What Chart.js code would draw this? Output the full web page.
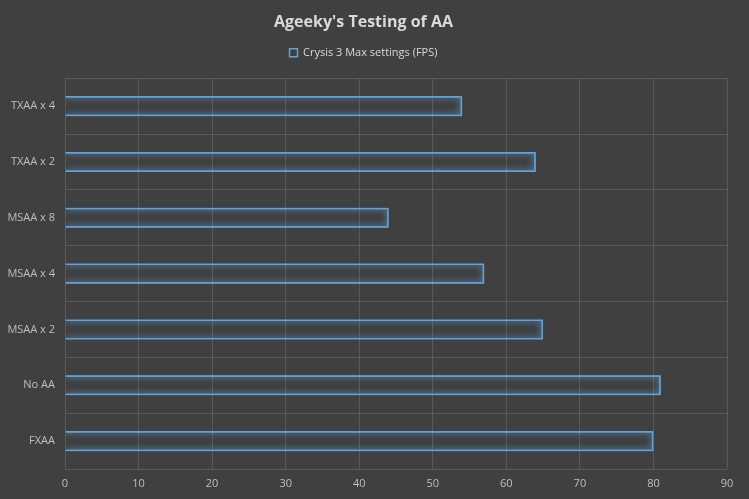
<!DOCTYPE html>
<html>
<head>
<meta charset="utf-8">
<script src="https://cdn.jsdelivr.net/npm/chart.js@4/dist/chart.umd.min.js"></script>
<style>
    html, body { margin: 0; padding: 0; background: #404040; }
    #wrap { width: 749px; height: 499px; position: relative; }
</style>
</head>
<body>
<div id="wrap"><canvas id="aaChart"></canvas></div>
<script>
// Chart data
const categories = ["TXAA x 4", "TXAA x 2", "MSAA x 8", "MSAA x 4", "MSAA x 2", "No AA", "FXAA"];
const fpsValues = [54, 64, 44, 57, 65, 81, 80];
const xTicks = [0, 10, 20, 30, 40, 50, 60, 70, 80, 90];

const FONT = "'Open Sans', 'Liberation Sans', sans-serif";
const BLUE = "#62a2da";
const GRID = "#5a5a5a";

// glow round the bar outlines
const glowPlugin = {
    id: "glow",
    afterInit(chart) {
        // leave a bit more room under the legend
        const legend = chart.legend;
        if (legend) {
            const origFit = legend.fit;
            legend.fit = function () {
                origFit.call(this);
                this.height += 10;
            };
        }
    },
    beforeDatasetsDraw(chart) {
        const ctx = chart.ctx;
        ctx.save();
        ctx.shadowColor = "rgba(91, 155, 213, 0.85)";
        ctx.shadowBlur = 6;
    },
    afterDatasetsDraw(chart) {
        // second pass makes the halo stronger
        chart.getDatasetMeta(0).controller.draw();
        chart.ctx.restore();
    }
};

new Chart(document.getElementById("aaChart").getContext("2d"), {
    type: "bar",
    data: {
        labels: categories,
        datasets: [{
            label: "Crysis 3 Max settings (FPS)",
            data: fpsValues,
            backgroundColor: "rgba(0, 0, 0, 0)",
            borderColor: BLUE,
            borderWidth: 1.5,
            categoryPercentage: 1,
            barPercentage: 0.36
        }]
    },
    options: {
        indexAxis: "y",
        responsive: true,
        maintainAspectRatio: false,
        animation: false,
        layout: { padding: { left: 0, right: 22, top: 10, bottom: 0 } },
        plugins: {
            title: {
                display: true,
                text: "Ageeky's Testing of AA",
                color: "#d9d9d9",
                font: { family: FONT, size: 16, weight: "bold" },
                padding: { top: 3, bottom: 7 }
            },
            legend: {
                display: true,
                labels: {
                    color: "#d9d9d9",
                    font: { family: FONT, size: 11 },
                    boxWidth: 8,
                    boxHeight: 8,
                    padding: 8
                }
            },
            tooltip: { enabled: false }
        },
        scales: {
            x: {
                min: 0,
                max: 90,
                afterBuildTicks(scale) {
                    scale.ticks = xTicks.map(v => ({ value: v }));
                },
                afterFit(scale) { scale.height = 30; },
                grid: { color: GRID, drawTicks: false },
                border: { display: false },
                ticks: { color: "#bfbfbf", font: { family: FONT, size: 11 }, padding: 8 }
            },
            y: {
                afterFit(scale) { scale.width = 65; },
                grid: { color: GRID, drawTicks: false, offset: true },
                border: { display: false },
                ticks: { color: "#bfbfbf", font: { family: FONT, size: 11 }, padding: 10 }
            }
        }
    },
    plugins: [glowPlugin]
});
</script>
</body>
</html>
